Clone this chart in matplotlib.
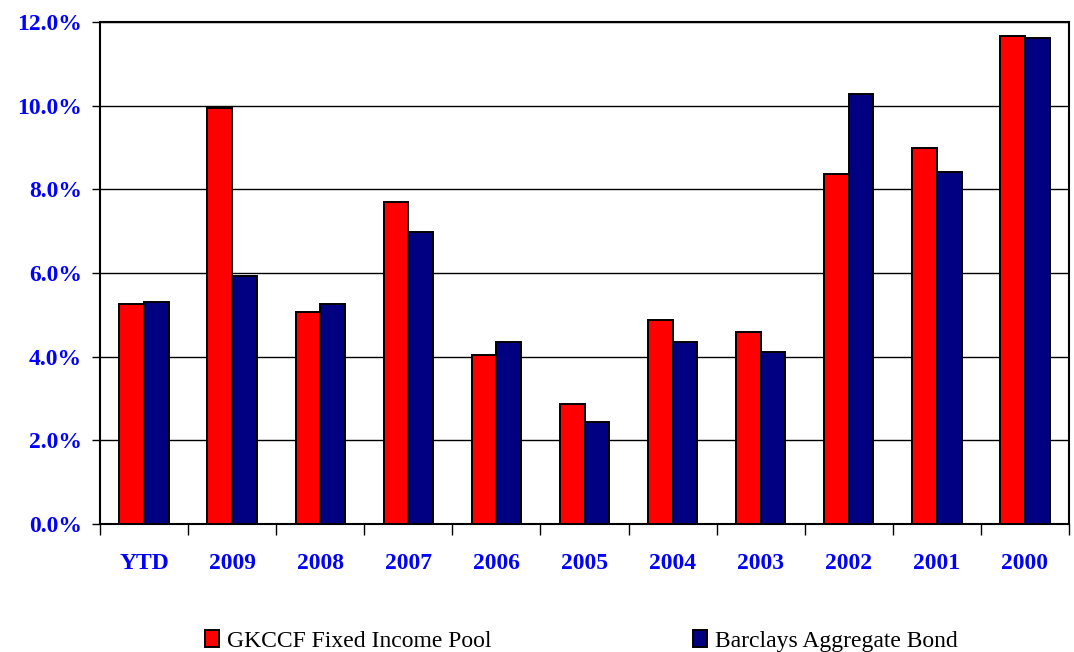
import numpy as np
import matplotlib
matplotlib.use('Agg')
import matplotlib.pyplot as plt
from matplotlib.ticker import FuncFormatter

# returns (%)
years = ['YTD', '2009', '2008', '2007', '2006', '2005', '2004', '2003', '2002', '2001', '2000']
pool = [5.26, 9.94, 5.07, 7.69, 4.05, 2.87, 4.87, 4.59, 8.36, 8.98, 11.67]
barclays = [5.30, 5.93, 5.26, 6.98, 4.35, 2.44, 4.35, 4.11, 10.27, 8.41, 11.61]
series_names = ['GKCCF Fixed Income Pool', 'Barclays Aggregate Bond']

plt.rcParams['font.family'] = ['Liberation Serif', 'DejaVu Serif']

fig = plt.figure(figsize=(10.74, 6.52), dpi=100)
ax = fig.add_axes([100/1074, 1-524/652, 969/1074, 502/652])

x = np.arange(len(years))
w = 0.28
ax.bar(x - w/2, pool, w, color='#ff0000', edgecolor='black', linewidth=1.4, label=series_names[0], zorder=3)
ax.bar(x + w/2, barclays, w, color='#000080', edgecolor='black', linewidth=1.4, label=series_names[1], zorder=3)

ax.set_xlim(-0.5, len(years) - 0.5)
ax.set_ylim(0, 12)
ax.set_yticks(np.arange(0, 12.1, 2))
ax.yaxis.set_major_formatter(FuncFormatter(lambda v, p: '%.1f%%' % v))
ax.yaxis.grid(True, color='black', linewidth=1.0, zorder=0)

ax.set_xticks(x)
ax.set_xticklabels(years)
ax.set_xticks(np.arange(-0.5, len(years)), minor=True)
ax.tick_params(axis='x', which='major', length=0, pad=21)
ax.tick_params(axis='x', which='minor', length=8, width=1.0, direction='out')
ax.tick_params(axis='y', length=6, width=1.0, direction='out', pad=7)

for lab in ax.get_xticklabels() + ax.get_yticklabels():
    lab.set_color('#0000ff')
    lab.set_fontweight('bold')
    lab.set_fontsize(17)

for s in ax.spines.values():
    s.set_color('black')
    s.set_linewidth(1.5)

fig.legend(loc='lower left', bbox_to_anchor=(205/1074, 0.0), ncol=2, frameon=False,
           prop={'size': 17}, columnspacing=8.5, handlelength=0.6, handleheight=0.7,
           handletextpad=0.35, borderaxespad=0.0, borderpad=0.0)

fig.savefig('out.png', dpi=100)
